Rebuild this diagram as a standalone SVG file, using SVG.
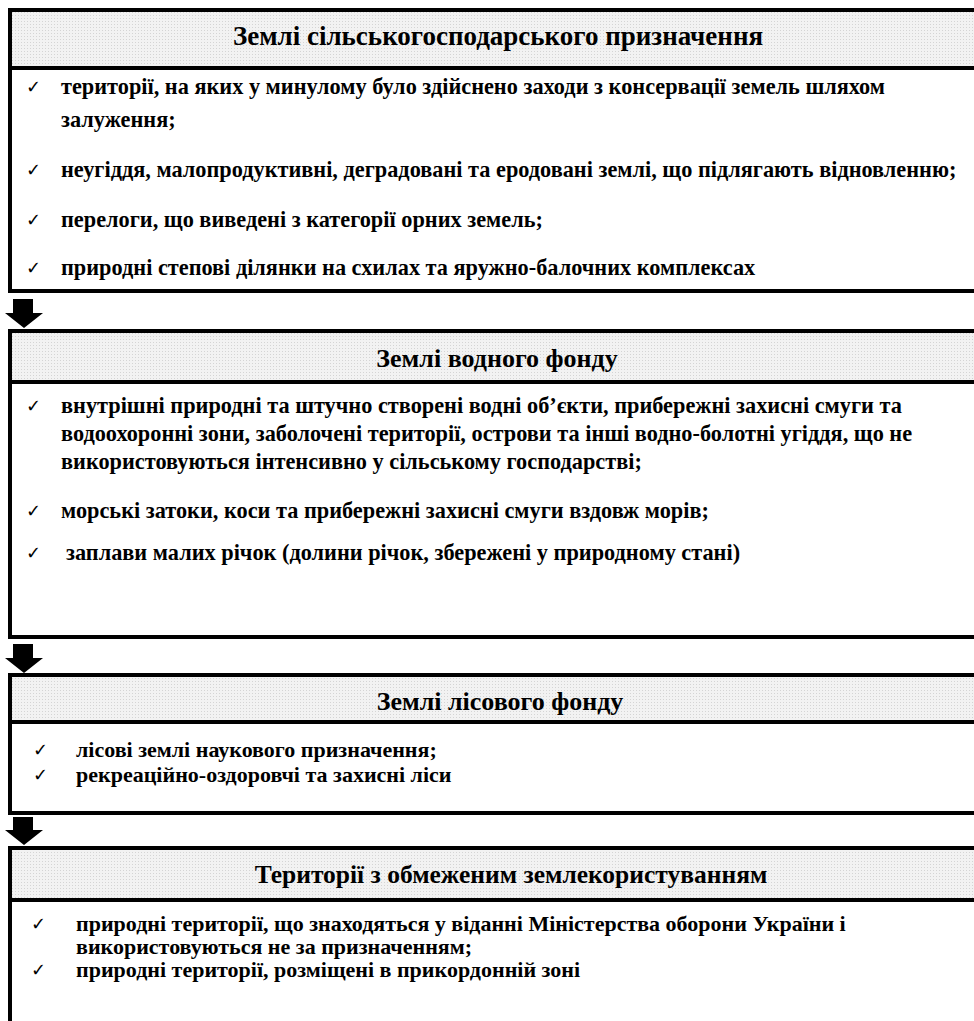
<svg xmlns="http://www.w3.org/2000/svg" width="974" height="1021" viewBox="0 0 974 1021">
<defs>
<pattern id="dots" width="3" height="3" patternUnits="userSpaceOnUse">
<rect width="3" height="3" fill="#f2f2f2"/>
<rect width="1" height="1" fill="#d4d4d4"/>
</pattern>
<style>
.box{fill:#fff;stroke:#000;stroke-width:4}
.hdr{fill:url(#dots);stroke:#000;stroke-width:4}
text{font-family:'Liberation Serif','Times New Roman',Tinos,'DejaVu Serif',serif;font-weight:bold;fill:#000}
.ht{font-size:26px;text-anchor:middle}
.t{font-size:22.3px}
.s{font-size:22px}
text.ck{font-family:'DejaVu Sans',sans-serif;font-weight:normal;font-size:18px}
.arr{fill:#000}
</style>
</defs>
<g id="node1">
<rect class="box" x="10" y="10" width="990" height="281"/>
<rect class="hdr" x="10" y="10" width="990" height="58"/>
<text class="ht" x="498" y="45" style="font-size:27px">Землі сільськогосподарського призначення</text>
<text class="ck" x="26" y="93">✓</text>
<text class="t" x="61" y="94">території, на яких у минулому було здійснено заходи з консервації земель шляхом</text>
<text class="t" x="61" y="127">залуження;</text>
<text class="ck" x="26" y="176">✓</text>
<text class="t" x="61" y="177">неугіддя, малопродуктивні, деградовані та еродовані землі, що підлягають відновленню;</text>
<text class="ck" x="26" y="226">✓</text>
<text class="t" x="61" y="227">перелоги, що виведені з категорії орних земель;</text>
<text class="ck" x="26" y="274">✓</text>
<text class="t" x="61" y="275">природні степові ділянки на схилах та яружно-балочних комплексах</text>
</g>
<g id="node2">
<rect class="box" x="10" y="331" width="990" height="306"/>
<rect class="hdr" x="10" y="331" width="990" height="51"/>
<text class="ht" x="497" y="367">Землі водного фонду</text>
<text class="ck" x="26" y="412">✓</text>
<text class="t" x="61" y="413">внутрішні природні та штучно створені водні об’єкти, прибережні захисні смуги та</text>
<text class="t" x="61" y="441">водоохоронні зони, заболочені території, острови та інші водно-болотні угіддя, що не</text>
<text class="t" x="61" y="469">використовуються інтенсивно у сільському господарстві;</text>
<text class="ck" x="26" y="517">✓</text>
<text class="t" x="61" y="518">морські затоки, коси та прибережні захисні смуги вздовж морів;</text>
<text class="ck" x="26" y="559">✓</text>
<text class="t" x="66" y="560">заплави малих річок (долини річок, збережені у природному стані)</text>
</g>
<g id="node3">
<rect class="box" x="10" y="675" width="990" height="138"/>
<rect class="hdr" x="10" y="675" width="990" height="47"/>
<text class="ht" x="500" y="710">Землі лісового фонду</text>
<text class="ck" x="33" y="756">✓</text>
<text class="s" x="76" y="757">лісові землі наукового призначення;</text>
<text class="ck" x="33" y="781">✓</text>
<text class="s" x="76" y="782">рекреаційно-оздоровчі та захисні ліси</text>
</g>
<g id="node4">
<rect class="box" x="10" y="848" width="990" height="200"/>
<rect class="hdr" x="10" y="848" width="990" height="52"/>
<text class="ht" x="511" y="883" style="font-size:25.5px">Території з обмеженим землекористуванням</text>
<text class="ck" x="31" y="930">✓</text>
<text class="s" x="76" y="931">природні території, що знаходяться у віданні Міністерства оборони України і</text>
<text class="s" x="76" y="954">використовуються не за призначенням;</text>
<text class="ck" x="31" y="976">✓</text>
<text class="s" x="76" y="977">природні території, розміщені в прикордонній зоні</text>
</g>
<g id="connectors">
<polygon class="arr" points="13,299 33,299 33,313 43,313 24,328 5,313 13,313"/>
<polygon class="arr" points="13,644 33,644 33,658 43,658 24,673 5,658 13,658"/>
<polygon class="arr" points="13,817 33,817 33,830 43,830 24,845 5,830 13,830"/>
</g>
</svg>
